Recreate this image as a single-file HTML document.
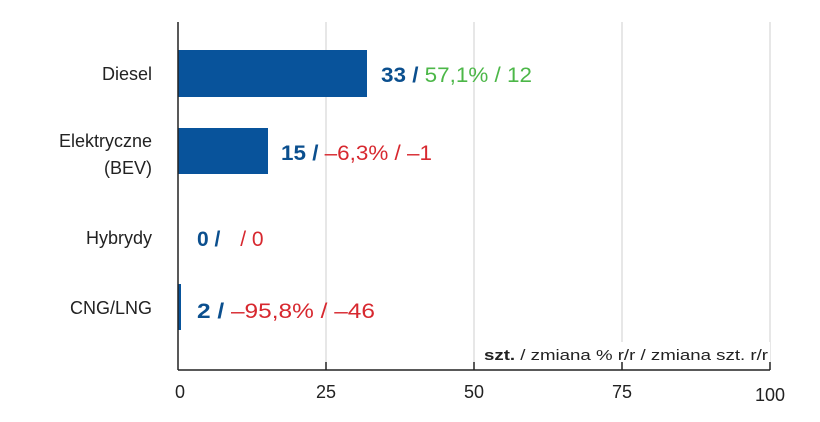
<!DOCTYPE html>
<html><head><meta charset="utf-8"><style>
body{margin:0;background:#fff;width:820px;height:417px;overflow:hidden;font-family:"Liberation Sans",sans-serif}
</style></head><body>
<svg width="820" height="417" xmlns="http://www.w3.org/2000/svg" font-family="Liberation Sans, sans-serif">
<g stroke="#cfcfcf" stroke-width="1">
<line x1="326" y1="22" x2="326" y2="370"/>
<line x1="474" y1="22" x2="474" y2="370"/>
<line x1="622" y1="22" x2="622" y2="370"/>
<line x1="770" y1="22" x2="770" y2="370"/>
</g>
<rect x="178" y="50" width="189" height="47" fill="#08539b"/>
<rect x="178" y="128" width="90" height="46" fill="#08539b"/>
<rect x="178" y="284" width="3" height="46" fill="#08539b"/>
<rect x="478" y="342" width="292" height="24" fill="#fff"/>
<text x="484" y="360" font-size="15" fill="#222" textLength="284" lengthAdjust="spacingAndGlyphs"><tspan font-weight="bold">szt.</tspan> / zmiana % r/r / zmiana szt. r/r</text>
<g stroke="#222" stroke-width="1.5">
<line x1="178" y1="22" x2="178" y2="370"/>
<line x1="178" y1="370" x2="770" y2="370"/>
<line x1="326" y1="362" x2="326" y2="370"/>
<line x1="474" y1="362" x2="474" y2="370"/>
<line x1="622" y1="362" x2="622" y2="370"/>
<line x1="770" y1="362" x2="770" y2="370"/>
</g>
<g font-size="18" fill="#222">
<text x="180" y="398" text-anchor="middle">0</text>
<text x="326" y="398" text-anchor="middle">25</text>
<text x="474" y="398" text-anchor="middle">50</text>
<text x="622" y="398" text-anchor="middle">75</text>
<text x="770" y="401" text-anchor="middle">100</text>
</g>
<g font-size="18" fill="#222" text-anchor="end">
<text x="152" y="80">Diesel</text>
<text x="152" y="147">Elektryczne</text>
<text x="152" y="174">(BEV)</text>
<text x="152" y="244">Hybrydy</text>
<text x="152" y="314">CNG/LNG</text>
</g>
<g font-size="21">
<text x="381" y="82" textLength="151" lengthAdjust="spacingAndGlyphs"><tspan fill="#0b4f8e" font-weight="bold">33 / </tspan><tspan fill="#4cb748">57,1% / 12</tspan></text>
<text x="281" y="160" textLength="151" lengthAdjust="spacingAndGlyphs"><tspan fill="#0b4f8e" font-weight="bold">15 / </tspan><tspan fill="#d7282f">–6,3% / –1</tspan></text>
<text x="197" y="246"><tspan fill="#0b4f8e" font-weight="bold">0 / </tspan><tspan fill="#d7282f" dx="14">/ 0</tspan></text>
<text x="197" y="318" textLength="178" lengthAdjust="spacingAndGlyphs"><tspan fill="#0b4f8e" font-weight="bold">2 / </tspan><tspan fill="#d7282f">–95,8% / –46</tspan></text>
</g>
</svg>
</body></html>
